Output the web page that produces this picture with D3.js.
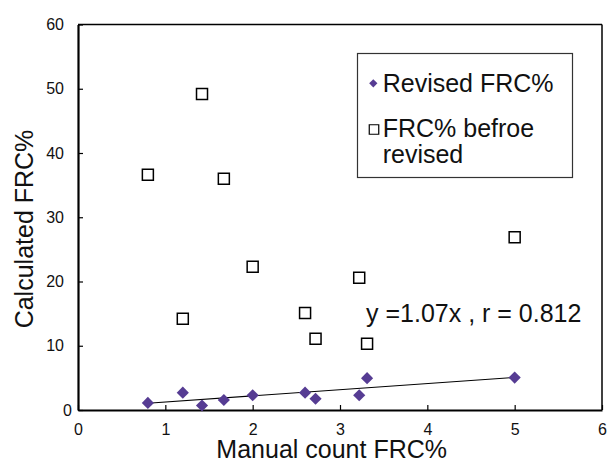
<!DOCTYPE html>
<html>
<head>
<meta charset="utf-8">
<script src="https://cdn.jsdelivr.net/npm/d3@7"></script>
<style>
  html, body { margin: 0; padding: 0; background: #fff; }
  svg { display: block; font-family: "Liberation Sans", Arial, sans-serif; }
</style>
</head>
<body>
<svg id="chart" width="608" height="461"></svg>
<script>
// ---- Data ----
const manualCount = [0.8, 1.2, 1.42, 1.67, 2.0, 2.6, 2.72, 3.22, 3.31, 5.0];
const revisedFRC = [1.1, 2.7, 0.7, 1.55, 2.3, 2.7, 1.75, 2.3, 4.95, 5.05];
const beforeFRC = [36.6, 14.2, 49.2, 36.0, 22.3, 15.1, 11.1, 20.6, 10.3, 26.9];
const trendX = [0.8, 5.0];
const trendY = [1.05, 5.08];
const xTicks = [0, 1, 2, 3, 4, 5, 6];
const yTicks = [0, 10, 20, 30, 40, 50, 60];
const seriesNames = ["Revised FRC%", "FRC% befroe", "revised"];
const annotation = "y =1.07x , r = 0.812";
const xTitle = "Manual count FRC%";
const yTitle = "Calculated FRC%";

// ---- Layout ----
const svg = d3.select("#chart");
const pL = 78, pR = 602, pT = 24.5, pB = 410;
const purple = "#563C93";

const x = d3.scaleLinear().domain([0, 6]).range([pL, pR]);
const y = d3.scaleLinear().domain([0, 60]).range([pB, pT]);

// frame top & right
svg.append("line").attr("x1", pL).attr("x2", pR).attr("y1", pT).attr("y2", pT)
  .attr("stroke", "#000").attr("stroke-width", 1.5);
svg.append("line").attr("x1", pR).attr("x2", pR).attr("y1", pT).attr("y2", pB)
  .attr("stroke", "#000").attr("stroke-width", 1.5);

// axes
const xAxis = d3.axisBottom(x).tickValues(xTicks).tickFormat(d3.format("d"))
  .tickSizeInner(-5).tickSizeOuter(0).tickPadding(14);
const gx = svg.append("g").attr("transform", `translate(0,${pB})`).call(xAxis);
const yAxis = d3.axisLeft(y).tickValues(yTicks).tickFormat(d3.format("d"))
  .tickSizeInner(-5).tickSizeOuter(0).tickPadding(14);
const gy = svg.append("g").attr("transform", `translate(${pL},0)`).call(yAxis);

[gx, gy].forEach(g => {
  g.select(".domain").attr("stroke", "#000").attr("stroke-width", 2.2);
  g.selectAll(".tick line").attr("stroke", "#000").attr("stroke-width", 1.2);
  g.selectAll(".tick text").attr("fill", "#111").style("font-size", "16px")
    .style("font-family", "'Liberation Sans', Arial, sans-serif");
});
gy.selectAll(".tick text").filter(d => d === 0).attr("x", -6);

// trend line
svg.append("path")
  .datum(trendX.map((d, i) => [d, trendY[i]]))
  .attr("d", d3.line().x(d => x(d[0])).y(d => y(d[1])))
  .attr("fill", "none").attr("stroke", "#000").attr("stroke-width", 1.1);

// squares (before revised)
const sq = d3.symbol().type(d3.symbolSquare).size(121);
svg.append("g").selectAll("path").data(manualCount).join("path")
  .attr("d", sq)
  .attr("transform", (d, i) => `translate(${x(d)},${y(beforeFRC[i])})`)
  .attr("fill", "#fff").attr("stroke", "#000").attr("stroke-width", 1.5);

// diamonds (revised)
const dia = d3.symbol().type(d3.symbolSquare).size(74);
svg.append("g").selectAll("path").data(manualCount).join("path")
  .attr("d", dia)
  .attr("transform", (d, i) => `translate(${x(d)},${y(revisedFRC[i])}) rotate(45)`)
  .attr("fill", purple);

// annotation
svg.append("text").attr("x", 366).attr("y", 321.5)
  .style("font-size", "25px").attr("fill", "#111").text(annotation);

// legend
const lg = svg.append("g");
lg.append("rect").attr("x", 357.5).attr("y", 53.5).attr("width", 215).attr("height", 124)
  .attr("fill", "#fff").attr("stroke", "#333").attr("stroke-width", 1.2);
lg.append("path").attr("d", d3.symbol().type(d3.symbolSquare).size(34)())
  .attr("transform", "translate(373.3,83.3) rotate(45)").attr("fill", purple);
lg.append("path").attr("d", d3.symbol().type(d3.symbolSquare).size(90)())
  .attr("transform", "translate(374,129.5)").attr("fill", "#fff")
  .attr("stroke", "#000").attr("stroke-width", 1.2);
lg.append("text").attr("x", 382.7).attr("y", 91.7).style("font-size", "25px").attr("fill", "#111").text(seriesNames[0]);
lg.append("text").attr("x", 382.7).attr("y", 136.7).style("font-size", "25px").attr("fill", "#111").text(seriesNames[1]);
lg.append("text").attr("x", 382.7).attr("y", 163.3).style("font-size", "25px").attr("fill", "#111").text(seriesNames[2]);

// axis titles
svg.append("text").attr("x", 331.7).attr("y", 458).attr("text-anchor", "middle")
  .style("font-size", "25px").attr("fill", "#111").text(xTitle);
svg.append("text").attr("transform", "translate(33,229) rotate(-90)").attr("text-anchor", "middle")
  .style("font-size", "25px").attr("fill", "#111").text(yTitle);
</script>
</body>
</html>
